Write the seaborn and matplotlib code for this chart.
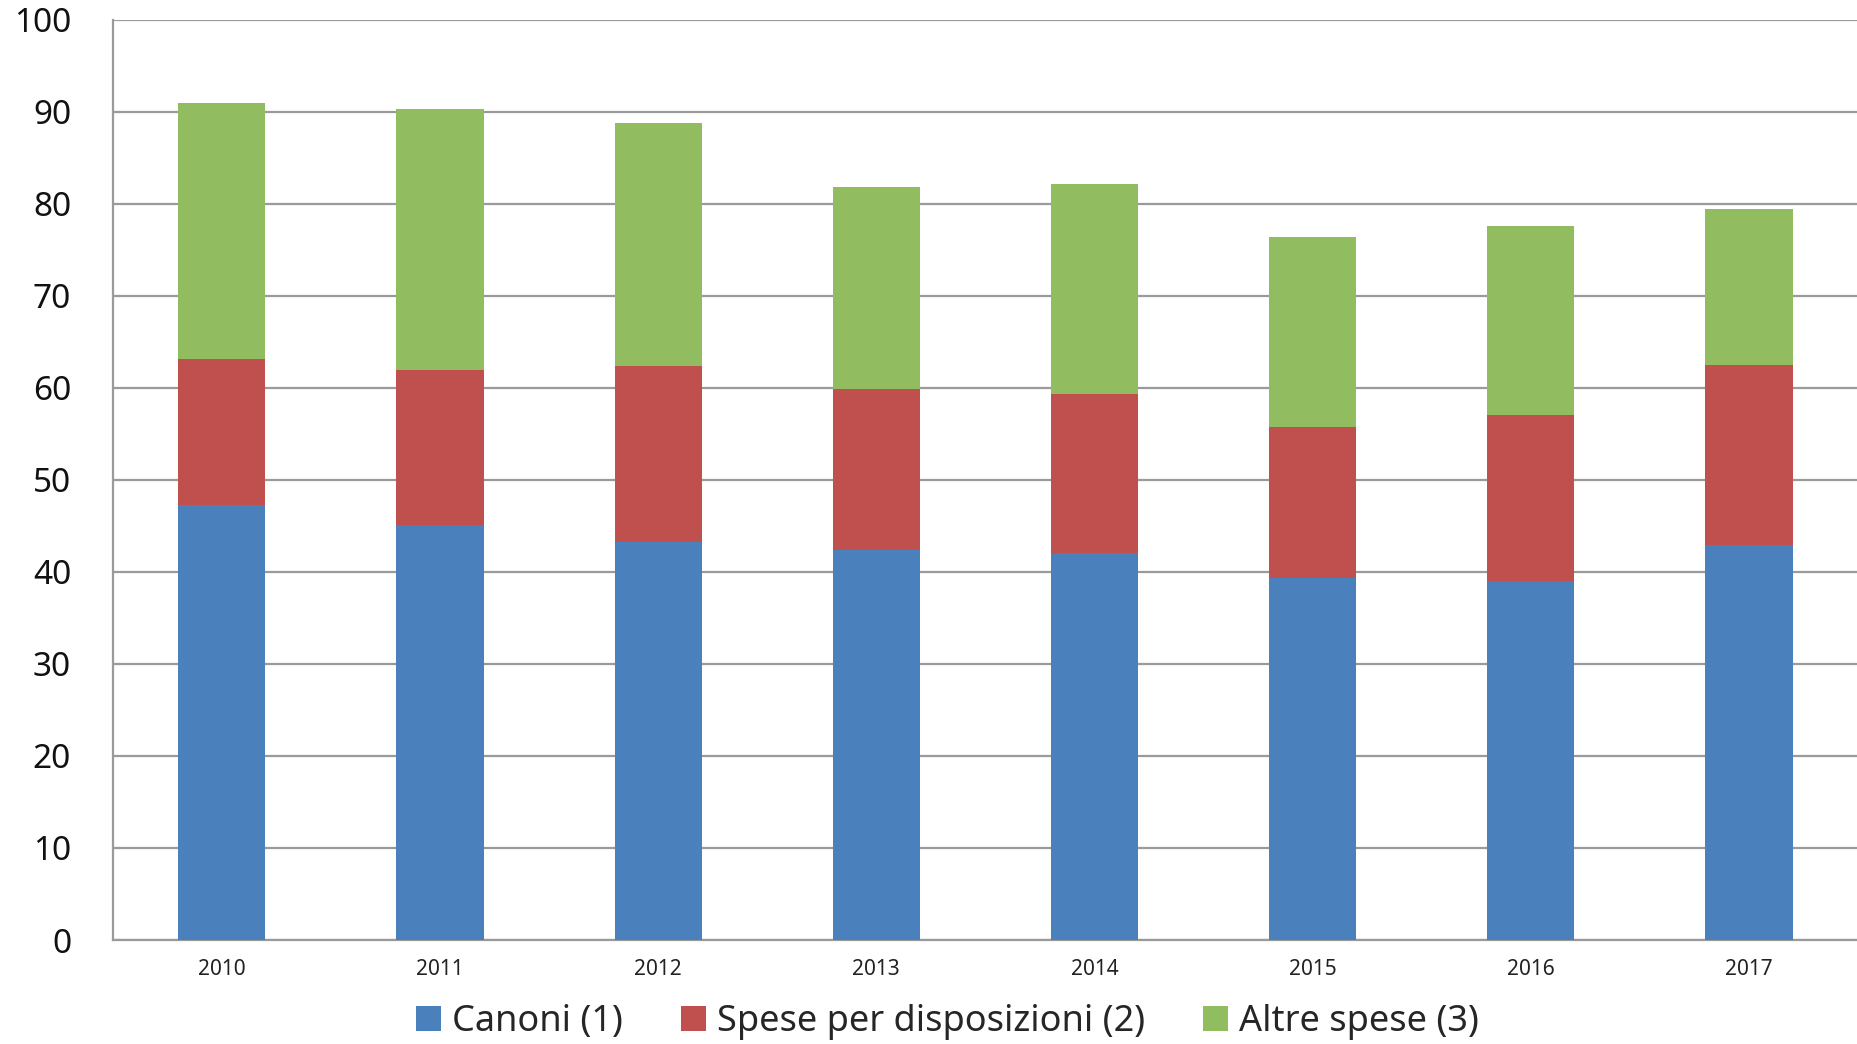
import pandas as pd
import matplotlib.pyplot as plt
import seaborn as sns
from matplotlib.patches import Patch

# Data
anni = ["2010", "2011", "2012", "2013", "2014", "2015", "2016", "2017"]
canoni = [47.3, 45.1, 43.2, 42.4, 42.1, 39.3, 39.0, 42.9]
spese_disposizioni = [15.8, 16.9, 19.2, 17.5, 17.2, 16.4, 18.1, 19.6]
altre_spese = [27.9, 28.3, 26.4, 21.9, 22.9, 20.7, 20.5, 16.9]

labels = ["Canoni (1)", "Spese per disposizioni (2)", "Altre spese (3)"]
colors = ["#4A81BD", "#C0504D", "#92BC60"]

df = pd.DataFrame({
    "anno": anni,
    "canoni": canoni,
    "spese": spese_disposizioni,
    "altre": altre_spese,
})
df["liv2"] = df["canoni"] + df["spese"]
df["liv3"] = df["liv2"] + df["altre"]

sns.set_style("white")
plt.rcParams["font.family"] = ["Noto Sans", "DejaVu Sans"]

fig = plt.figure(figsize=(18.58, 10.44), dpi=100)
ax = fig.add_axes([0.0607, 0.0996, 0.9393, 0.8814])

# stacked bars: draw cumulative totals back to front
for col, c in [("liv3", colors[2]), ("liv2", colors[1]), ("canoni", colors[0])]:
    sns.barplot(data=df, x="anno", y=col, color=c, width=0.4,
                saturation=1, linewidth=0, ax=ax, zorder=3)

ax.set_ylim(0, 100)
ax.set_xlim(-0.5, 7.5)
ax.set_yticks(range(0, 101, 10))
ax.set_xlabel("")
ax.set_ylabel("")

ax.yaxis.grid(True, color="#9a9a9a", linewidth=1.6, zorder=0)
ax.set_axisbelow(True)

for side in ["top", "right"]:
    ax.spines[side].set_visible(False)
for side in ["left", "bottom"]:
    ax.spines[side].set_color("#9a9a9a")
    ax.spines[side].set_linewidth(1.6)

ax.tick_params(axis="y", length=0, pad=30, labelsize=24, labelcolor="#111111")
ax.tick_params(axis="x", which="major", length=0, pad=14, labelsize=15,
               labelcolor="#222222")
ax.set_xticks([i + 0.5 for i in range(7)], minor=True)
ax.tick_params(axis="x", which="minor", length=9, width=1.4, color="#9a9a9a",
               direction="out")

handles = [Patch(facecolor=c, edgecolor="none") for c in colors]
fig.legend(handles, labels, loc="center", bbox_to_anchor=(0.51, 0.021),
           ncol=3, frameon=False, fontsize=26, handlelength=0.7,
           handleheight=0.7, handletextpad=0.3, columnspacing=1.6)

plt.savefig("out.png", dpi=100)
